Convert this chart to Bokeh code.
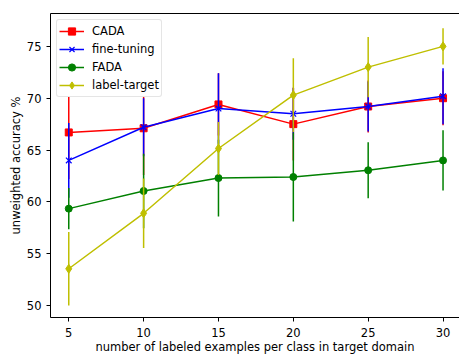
from bokeh.plotting import figure
from bokeh.models import Range1d, LinearAxis, FixedTicker, Legend, LegendItem
from bokeh.embed import file_html
from bokeh.resources import INLINE

x = [5, 10, 15, 20, 25, 30]
cada = [66.7, 67.1, 69.4, 67.5, 69.2, 70.0]
cada_err = [4.5, 4.5, 3.0, 3.5, 2.5, 2.6]
fine = [64.0, 67.2, 69.0, 68.5, 69.2, 70.2]
fine_err = [3.6, 2.8, 3.4, 2.5, 2.4, 2.7]
fada = [59.35, 61.05, 62.3, 62.4, 63.05, 64.0]
fada_err = [2.0, 3.6, 3.7, 4.3, 2.7, 2.9]
label_target = [53.55, 58.9, 65.15, 70.3, 73.0, 75.0]
label_target_err = [3.55, 3.35, 2.55, 3.55, 2.9, 1.75]

x_ticks = [5, 10, 15, 20, 25, 30]
y_ticks = [50, 55, 60, 65, 70, 75]

FONT = "DejaVu Sans"
FS = "11.5px"

p = figure(width=459, height=356, output_backend="svg", toolbar_location=None,
           x_range=Range1d(3.78, 31.1), y_range=Range1d(48.85, 78.17),
           min_border_left=50, min_border_right=0, min_border_top=13, min_border_bottom=0)
p.outline_line_color = None
p.xgrid.visible = False
p.ygrid.visible = False
p.background_fill_color = "white"

series = [
    ("CADA", cada, cada_err, "#ff0000", "square", 7),
    ("fine-tuning", fine, fine_err, "#0000ff", "x", 8),
    ("FADA", fada, fada_err, "#008000", "circle", 7),
    ("label-target", label_target, label_target_err, "#bfbf00", "diamond", 9),
]

items = []
for name, ys, errs, col, mk, sz in series:
    lo = [v - e for v, e in zip(ys, errs)]
    hi = [v + e for v, e in zip(ys, errs)]
    p.segment(x0=x, y0=lo, x1=x, y1=hi, line_color=col, line_width=1.5)
    ln = p.line(x, ys, line_color=col, line_width=1.5)
    if mk == "x":
        sc = p.scatter(x, ys, marker=mk, size=sz, line_color=col, line_width=1.2)
    else:
        sc = p.scatter(x, ys, marker=mk, size=sz, fill_color=col, line_color=col)
    items.append(LegendItem(label=name, renderers=[ln, sc]))

legend = Legend(items=items, location="top_left")
legend.label_text_font = FONT
legend.label_text_font_size = FS
legend.label_text_color = "#000000"
legend.border_line_color = "#cccccc"
legend.border_line_width = 1
legend.border_radius = 3
legend.background_fill_alpha = 1.0
legend.padding = 2
legend.spacing = 0
legend.margin = 6
legend.glyph_width = 25
legend.glyph_height = 18
legend.label_height = 18
legend.label_standoff = 8
p.add_layout(legend)

for ax in (p.xaxis[0], p.yaxis[0]):
    ax.major_label_text_font = FONT
    ax.major_label_text_font_size = FS
    ax.major_label_text_color = "#000000"
    ax.axis_label_text_font = FONT
    ax.axis_label_text_font_size = FS
    ax.axis_label_text_font_style = "normal"
    ax.axis_label_text_color = "#000000"
    ax.axis_line_color = "#000000"
    ax.major_tick_line_color = "#000000"
    ax.minor_tick_line_color = None
    ax.major_tick_in = 0
    ax.major_tick_out = 4

p.xaxis[0].ticker = FixedTicker(ticks=x_ticks)
p.yaxis[0].ticker = FixedTicker(ticks=y_ticks)
p.xaxis[0].axis_label = "number of labeled examples per class in target domain"
p.yaxis[0].axis_label = "unweighted accuracy %"
p.xaxis[0].major_label_standoff = 6
p.yaxis[0].major_label_standoff = 5
p.xaxis[0].axis_label_standoff = 0
p.yaxis[0].axis_label_standoff = 1

top = LinearAxis(ticker=FixedTicker(ticks=[]), major_label_text_font_size="0px",
                 major_tick_out=0, major_tick_in=0, minor_tick_out=0, minor_tick_in=0,
                 major_label_standoff=0, axis_line_color="#000000")
p.add_layout(top, "above")

open("out.html", "w").write(file_html(p, INLINE))
